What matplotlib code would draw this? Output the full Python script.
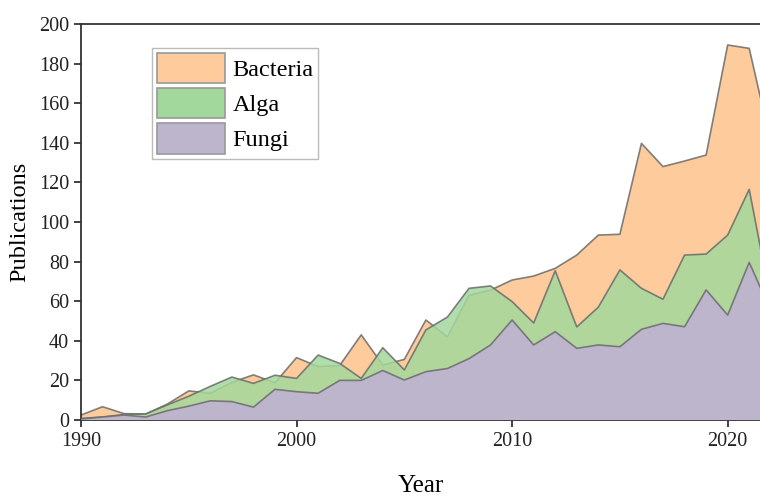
import matplotlib
matplotlib.use("Agg")
import matplotlib.pyplot as plt
from matplotlib.patches import Patch

years = list(range(1990, 2023))
bacteria = [2.5, 6.7, 3.2, 3.0, 8.0, 14.7, 13.5, 19.0, 22.8, 18.8, 31.5, 27.0, 27.5, 43.0, 27.8, 30.6,
            50.5, 42.0, 63.0, 65.6, 70.7, 72.7, 76.6, 83.3, 93.4, 93.8, 139.7, 128.0, 130.8, 133.8,
            189.4, 187.7, 140.0]
alga = [0.8, 1.5, 2.8, 3.0, 7.6, 12.0, 17.0, 21.7, 18.5, 22.6, 21.0, 32.8, 28.6, 21.0, 36.5, 25.3,
        45.5, 52.0, 66.5, 67.7, 59.8, 49.0, 75.4, 47.0, 57.0, 75.8, 66.5, 61.0, 83.3, 83.8,
        93.4, 116.5, 60.0]
fungi = [0.5, 1.5, 2.5, 1.5, 4.7, 7.0, 9.7, 9.3, 6.5, 15.5, 14.3, 13.5, 20.0, 20.0, 25.0, 20.2,
         24.4, 26.0, 31.0, 37.9, 50.5, 37.9, 44.6, 36.2, 37.9, 37.0, 45.8, 48.8, 47.1, 65.7,
         53.0, 79.6, 55.0]
series_names = ["Bacteria", "Alga", "Fungi"]
x_ticks = [1990, 2000, 2010, 2020]
y_ticks = list(range(0, 201, 20))

serif = ["Liberation Serif", "DejaVu Serif"]
plt.rcParams["font.family"] = serif

fig = plt.figure(figsize=(7.6, 5.0), dpi=100)
ax = fig.add_axes([81 / 760, 80 / 500, (760 - 81) / 760, 396 / 500])

c_bac = "#FDCB9C"
c_alg = "#A3D89D"
c_fun = "#BCB5CC"
edge = "#6b6b6b"

ax.fill_between(years, 0, bacteria, facecolor=c_bac, edgecolor="none", zorder=1)
ax.plot(years, bacteria, color=edge, lw=1.2, alpha=0.85, zorder=1.5)
ax.fill_between(years, 0, alga, facecolor=c_alg, alpha=0.85, edgecolor="none", zorder=2)
ax.plot(years, alga, color=edge, lw=1.2, alpha=0.85, zorder=2.5)
ax.fill_between(years, 0, fungi, facecolor=c_fun, edgecolor="none", zorder=3)
ax.plot(years, fungi, color=edge, lw=1.2, alpha=0.85, zorder=3.5)

ax.set_xlim(1990, 2021.5)
ax.set_ylim(0, 200)
ax.set_xticks(x_ticks)
ax.set_yticks(y_ticks)
ax.tick_params(direction="out", length=5, width=1.2, labelsize=14.5, colors="#222222")
ax.tick_params(axis="x", pad=4)
for s in ["left", "bottom", "top"]:
    ax.spines[s].set_linewidth(1.3)
    ax.spines[s].set_color("#333333")
ax.spines["right"].set_visible(False)

ax.set_xlabel("Year", fontsize=18, labelpad=17)
ax.set_ylabel("Publications", fontsize=17.5, labelpad=6)

handles = [Patch(facecolor=c_bac, edgecolor="#999999", lw=1.2),
           Patch(facecolor=c_alg, edgecolor="#999999", lw=1.2),
           Patch(facecolor=c_fun, edgecolor="#999999", lw=1.2)]
leg = ax.legend(handles, series_names, loc="upper left", bbox_to_anchor=(0.105, 0.94),
                fontsize=17.5, frameon=True, fancybox=False, edgecolor="#aaaaaa",
                handlelength=2.8, handleheight=1.55, handletextpad=0.3, labelspacing=0.2,
                borderpad=0.2, borderaxespad=0)
leg.get_frame().set_linewidth(1.0)

fig.savefig("out.png", dpi=100)
